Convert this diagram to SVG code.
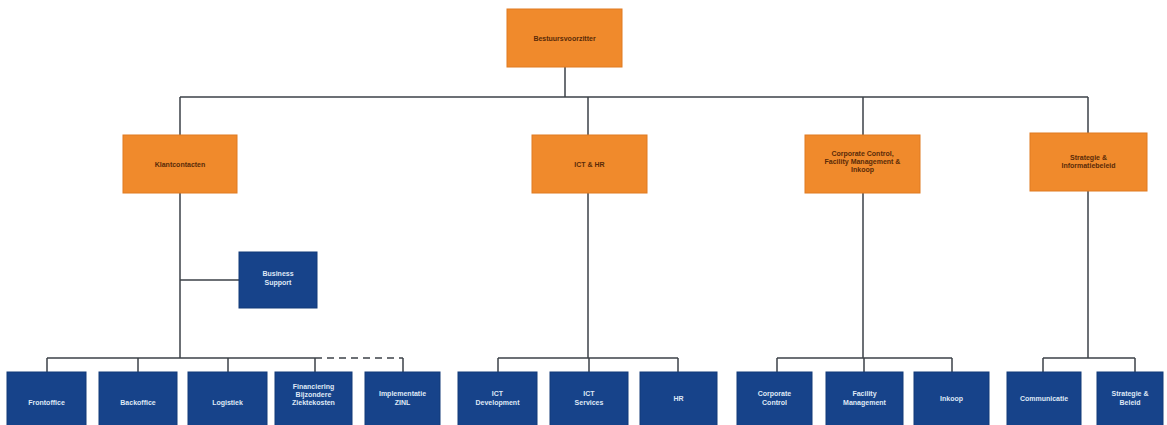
<svg xmlns="http://www.w3.org/2000/svg" width="1167" height="425" viewBox="0 0 1167 425">
<style>
.o{fill:#f08a2c;stroke:#e07a20;stroke-width:1}
.b{fill:#17438a;stroke:#123a78;stroke-width:1}
.to{font-family:"Liberation Sans",Arial,sans-serif;font-size:7px;font-weight:bold;fill:#5a2a08;text-anchor:middle}
.tb{font-family:"Liberation Sans",Arial,sans-serif;font-size:7px;font-weight:bold;fill:#dfe8f6;text-anchor:middle}
.c{stroke:#3d4248;stroke-width:1.5;fill:none}
.d{stroke:#3d4248;stroke-width:1.5;fill:none;stroke-dasharray:7,5}
</style>
<rect width="1167" height="425" fill="#ffffff"/>
<g id="connectors">
<path class="c" d="M565 67V97M180 97H1088M180 97V135M588 97V135M863 97V135M1088 97V133"/>
<path class="c" d="M180 193V358M180 280H239M47 358H315M47 358V372M138 358V372M228 358V372M315 358V372M403 358V372"/>
<path class="d" d="M315 358H403"/>
<path class="c" d="M588 193V358M498 358H678M498 358V372M589 358V372M678 358V372"/>
<path class="c" d="M863 193V358M777 358H952M777 358V372M864 358V372M952 358V372"/>
<path class="c" d="M1088 191V358M1043 358H1135M1043 358V372M1135 358V372"/>
</g>
<g id="n-top"><rect class="o" x="507" y="9" width="115" height="58"/><text class="to" x="564.5" y="41">Bestuursvoorzitter</text></g>
<g id="n-klant"><rect class="o" x="123" y="135" width="114" height="58"/><text class="to" x="180" y="167">Klantcontacten</text></g>
<g id="n-icthr"><rect class="o" x="532" y="135" width="115" height="58"/><text class="to" x="589.5" y="167">ICT &amp; HR</text></g>
<g id="n-ccfm"><rect class="o" x="805" y="135" width="115" height="58"/><text class="to" x="862.5" y="156">Corporate Control,</text><text class="to" x="862.5" y="164">Facility Management &amp;</text><text class="to" x="862.5" y="172">Inkoop</text></g>
<g id="n-strat"><rect class="o" x="1030" y="133" width="117" height="58"/><text class="to" x="1088.5" y="160">Strategie &amp;</text><text class="to" x="1088.5" y="168">Informatiebeleid</text></g>
<g id="n-bs"><rect class="b" x="239" y="252" width="78" height="56"/><text class="tb" x="278" y="276">Business</text><text class="tb" x="278" y="285">Support</text></g>
<g id="n-front"><rect class="b" x="7" y="372" width="79" height="56"/><text class="tb" x="46.5" y="405">Frontoffice</text></g>
<g id="n-back"><rect class="b" x="99" y="372" width="78" height="56"/><text class="tb" x="138" y="405">Backoffice</text></g>
<g id="n-log"><rect class="b" x="188" y="372" width="79" height="56"/><text class="tb" x="227.5" y="405">Logistiek</text></g>
<g id="n-fin"><rect class="b" x="275" y="372" width="77" height="56"/><text class="tb" x="313.5" y="389">Financiering</text><text class="tb" x="313.5" y="397">Bijzondere</text><text class="tb" x="313.5" y="405">Ziektekosten</text></g>
<g id="n-impl"><rect class="b" x="365" y="372" width="75" height="56"/><text class="tb" x="402.5" y="396">Implementatie</text><text class="tb" x="402.5" y="405">ZINL</text></g>
<g id="n-ictdev"><rect class="b" x="458" y="372" width="79" height="56"/><text class="tb" x="497.5" y="396">ICT</text><text class="tb" x="497.5" y="405">Development</text></g>
<g id="n-ictserv"><rect class="b" x="550" y="372" width="78" height="56"/><text class="tb" x="589" y="396">ICT</text><text class="tb" x="589" y="405">Services</text></g>
<g id="n-hr"><rect class="b" x="640" y="372" width="77" height="56"/><text class="tb" x="678.5" y="401">HR</text></g>
<g id="n-cc"><rect class="b" x="737" y="372" width="75" height="56"/><text class="tb" x="774.5" y="396">Corporate</text><text class="tb" x="774.5" y="405">Control</text></g>
<g id="n-fm"><rect class="b" x="826" y="372" width="77" height="56"/><text class="tb" x="864.5" y="396">Facility</text><text class="tb" x="864.5" y="405">Management</text></g>
<g id="n-ink"><rect class="b" x="914" y="372" width="75" height="56"/><text class="tb" x="951.5" y="401">Inkoop</text></g>
<g id="n-comm"><rect class="b" x="1007" y="372" width="74" height="56"/><text class="tb" x="1044" y="401">Communicatie</text></g>
<g id="n-sb"><rect class="b" x="1097" y="372" width="66" height="56"/><text class="tb" x="1130" y="396">Strategie &amp;</text><text class="tb" x="1130" y="405">Beleid</text></g>
</svg>
